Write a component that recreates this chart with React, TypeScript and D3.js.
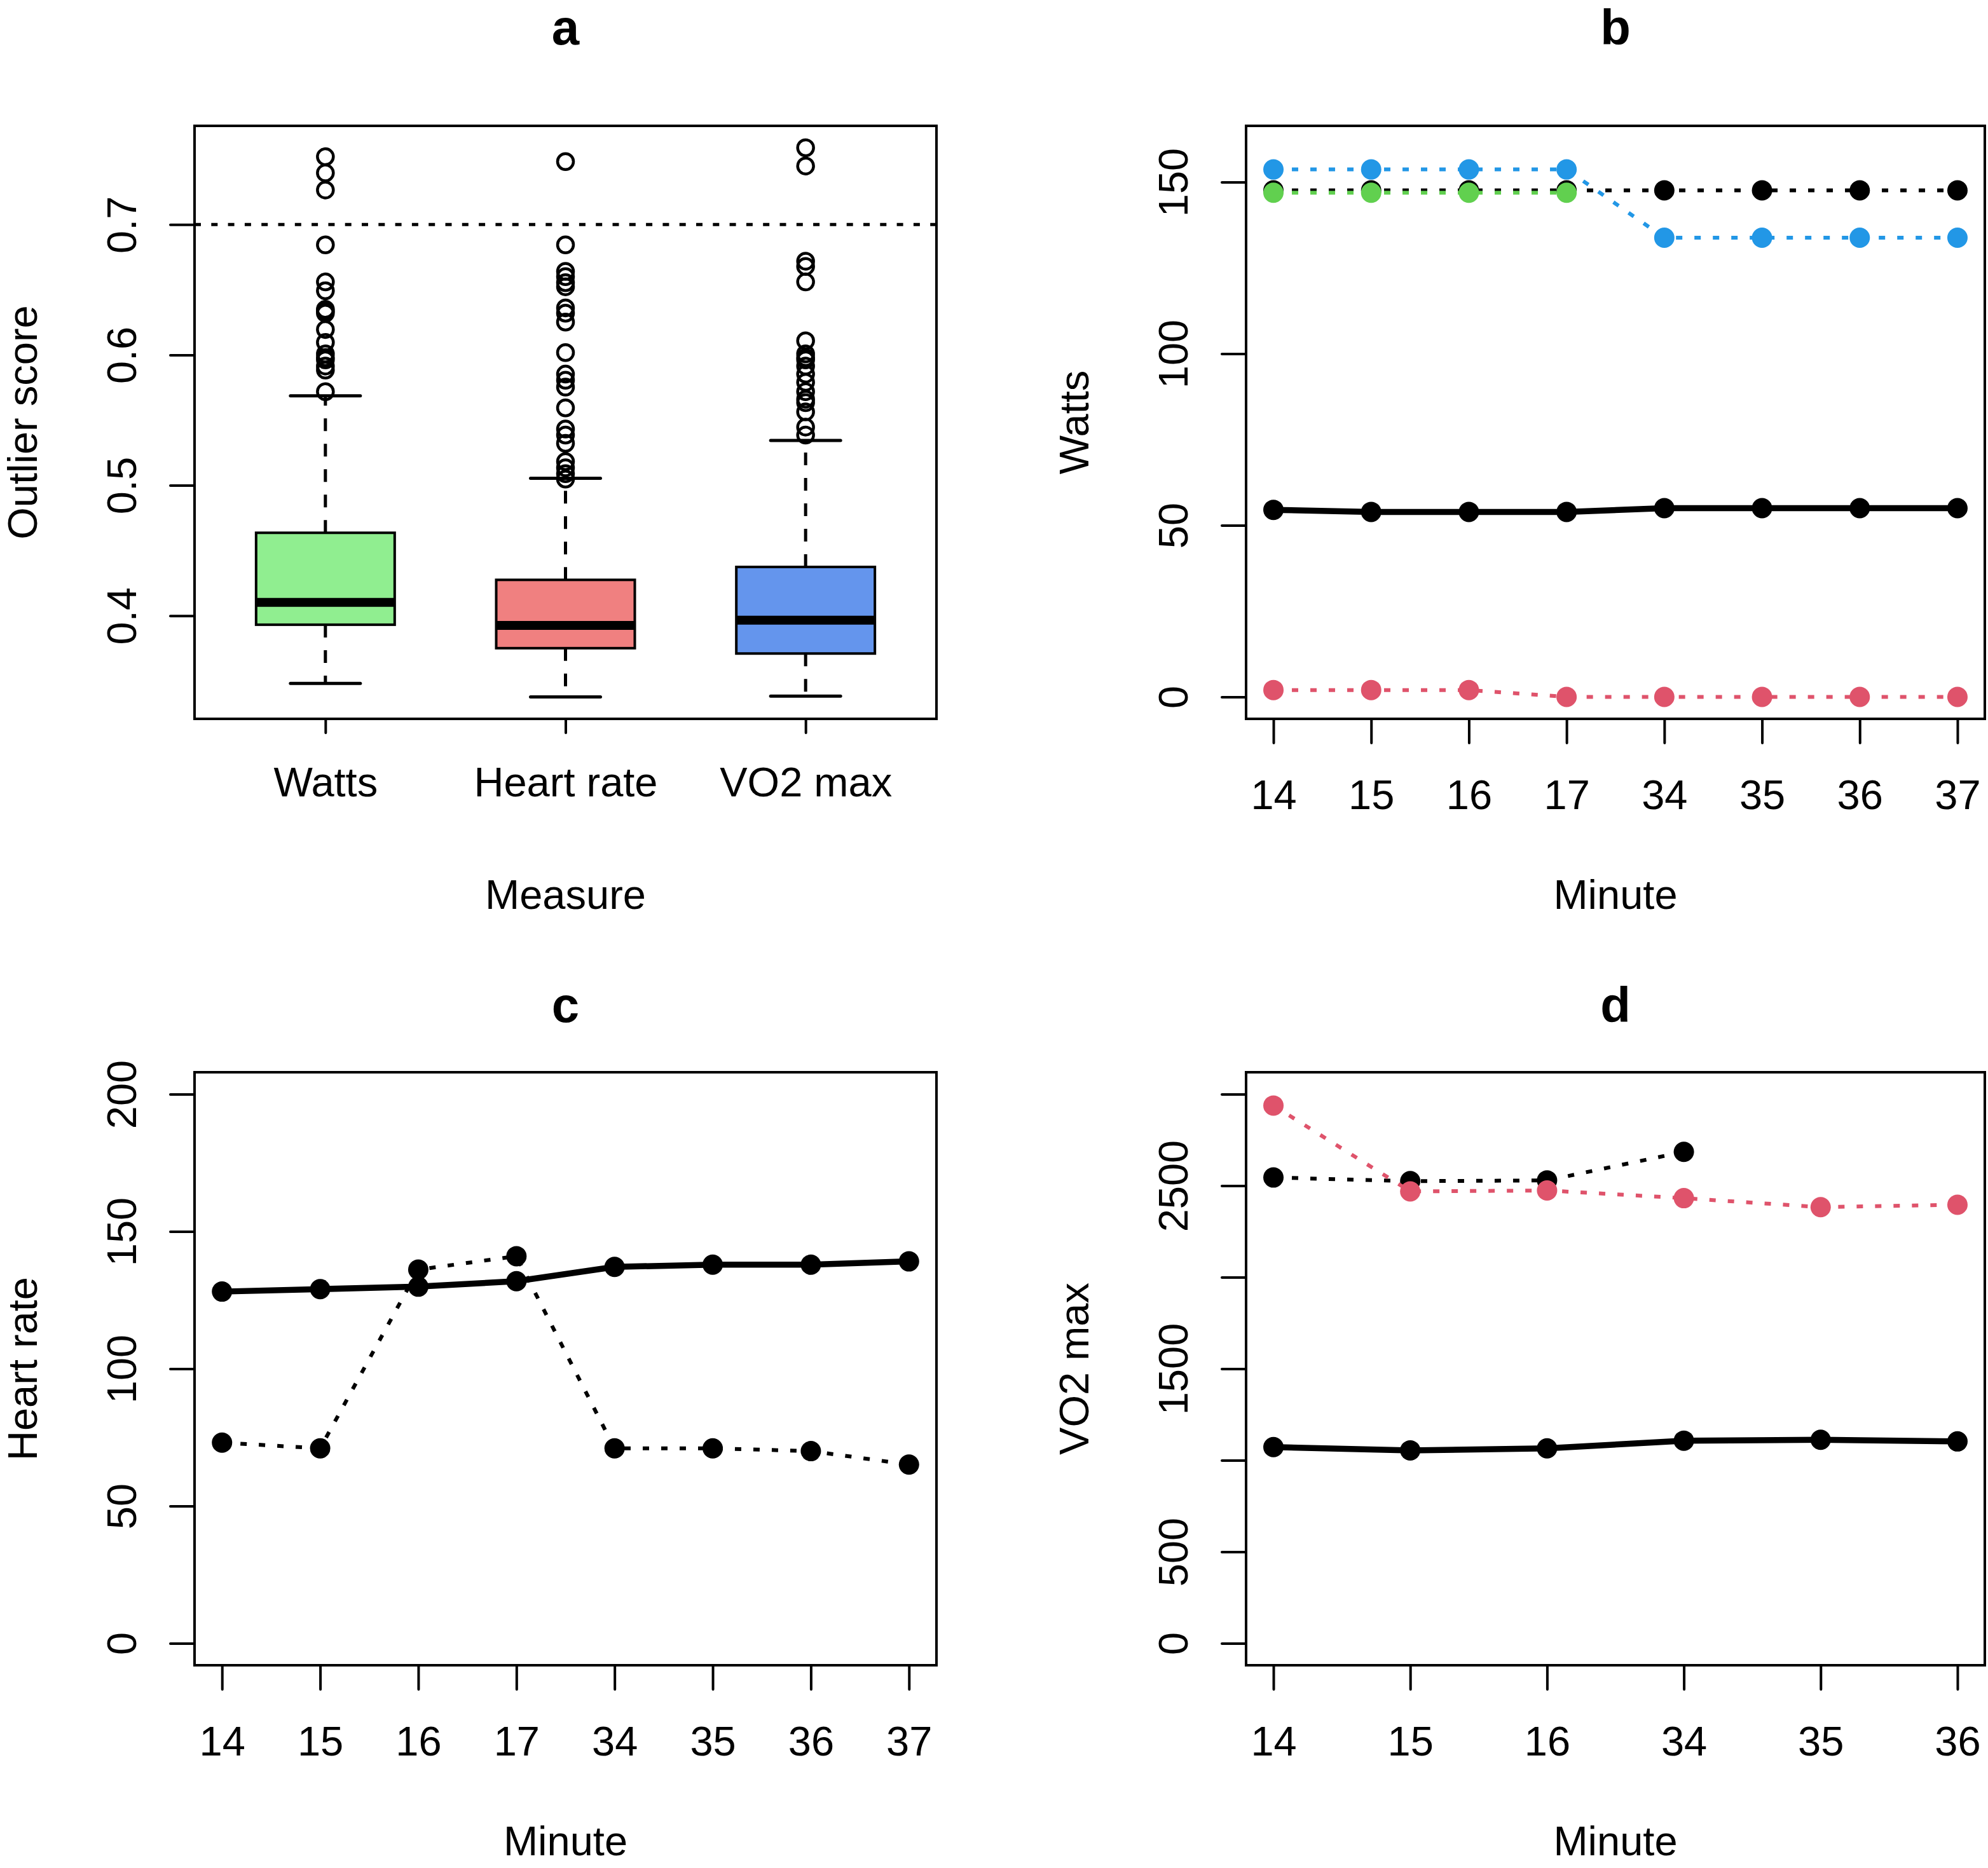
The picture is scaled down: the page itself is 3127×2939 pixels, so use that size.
import { useEffect, useRef } from 'react';
import * as d3 from 'd3';

const W = 3127;
const H = 2939;
const FONT = '"Liberation Sans", Arial, Helvetica, sans-serif';

// ── panel a: box plots of outlier scores ──
const measures = ['Watts', 'Heart rate', 'VO2 max'];
const boxFill = ['#90EE90', '#F08080', '#6495ED'];
const boxLow = [0.3481, 0.3377, 0.3383];
const boxQ1 = [0.3931, 0.3751, 0.371];
const boxMedian = [0.4102, 0.3925, 0.3966];
const boxQ3 = [0.4636, 0.4275, 0.4374];
const boxHigh = [0.5687, 0.5054, 0.5344];
const outWatts = [0.752, 0.7396, 0.7265, 0.6844, 0.656, 0.6492, 0.635, 0.6336, 0.632, 0.6195, 0.6096, 0.6008, 0.598, 0.5962, 0.5915, 0.5884, 0.5718];
const outHeart = [0.7483, 0.6844, 0.6641, 0.66, 0.6554, 0.6523, 0.6361, 0.632, 0.6252, 0.6018, 0.5853, 0.5806, 0.5753, 0.5594, 0.5432, 0.5385, 0.5322, 0.5182, 0.5135, 0.5089, 0.5048];
const outVO2 = [0.7589, 0.7449, 0.6719, 0.6679, 0.656, 0.6108, 0.6008, 0.598, 0.5962, 0.5915, 0.5853, 0.579, 0.5718, 0.566, 0.5634, 0.5563, 0.5447, 0.5385];
const scoreTicks = [0.4, 0.5, 0.6, 0.7];
const threshold = 0.7;

// ── panel b: watts ──
const minutesB = ['14', '15', '16', '17', '34', '35', '36', '37'];
const wattsSolid = [54.5, 53.9, 53.9, 53.9, 55.0, 55.0, 55.0, 55.0];
const wattsBlack = [147.6, 147.6, 147.6, 147.6, 147.6, 147.6, 147.6, 147.6];
const wattsRed = [2.0, 2.0, 2.0, 0, 0, 0, 0, 0];
const wattsGreen = [146.9, 146.9, 146.9, 146.9];
const wattsBlue = [153.7, 153.7, 153.7, 153.7, 133.8, 133.8, 133.8, 133.8];
const wattsTicks = [0, 50, 100, 150];

// ── panel c: heart rate ──
const minutesC = ['14', '15', '16', '17', '34', '35', '36', '37'];
const hrSolid = [128.1, 129.0, 129.9, 131.9, 137.1, 137.9, 137.9, 139.1];
const hrDotted = [73.1, 71.0, 136.1, 141.0, 71.0, 71.0, 70.0, 65.1];
const hrTicks = [0, 50, 100, 150, 200];

// ── panel d: VO2 max ──
const minutesD = ['14', '15', '16', '34', '35', '36'];
const vo2Solid = [1072, 1054, 1065, 1107, 1112, 1103];
const vo2Black = [2545, 2525, 2529, 2685];
const vo2Red = [2938, 2469, 2474, 2432, 2383, 2396];
const vo2Ticks = [0, 500, 1000, 1500, 2000, 2500, 3000];
const vo2Labels = ['0', '500', '', '1500', '', '2500', ''];

const RED = '#DF536B';
const GREEN = '#61D04F';
const BLUE = '#2297E6';

type Sel = d3.Selection<SVGGElement, unknown, null, undefined>;
interface Box { left: number; right: number; top: number; bottom: number }

const boxA: Box = { left: 306, right: 1473, top: 198, bottom: 1131 };
const boxB: Box = { left: 1960, right: 3122, top: 198, bottom: 1131 };
const boxC: Box = { left: 306, right: 1473, top: 1687, bottom: 2620 };
const boxD: Box = { left: 1960, right: 3122, top: 1687, bottom: 2620 };

function frame(g: Sel, b: Box) {
  g.append('rect')
    .attr('x', b.left).attr('y', b.top)
    .attr('width', b.right - b.left).attr('height', b.bottom - b.top)
    .attr('fill', 'none').attr('stroke', '#000').attr('stroke-width', 4);
}

function yAxis(g: Sel, b: Box, y: d3.ScaleLinear<number, number>, ticks: number[], labels: string[]) {
  const ax = g.append('g')
    .attr('transform', `translate(${b.left},0)`)
    .call(d3.axisLeft(y).tickValues(ticks).tickSize(38).tickFormat((_d, i) => labels[i]));
  ax.attr('font-family', FONT).attr('font-size', 65);
  ax.select('.domain').remove();
  ax.selectAll('.tick line').attr('stroke', '#000').attr('stroke-width', 4).attr('stroke-linecap', 'round');
  ax.selectAll('.tick text')
    .attr('x', 0).attr('y', -92).attr('dy', null)
    .attr('transform', 'rotate(-90)')
    .attr('text-anchor', 'middle').attr('fill', '#000');
}

function xAxis(g: Sel, b: Box, x: d3.ScaleLinear<number, number>, labels: string[], tickLen: number, labelY: number) {
  const ax = g.append('g')
    .attr('transform', `translate(0,${b.bottom})`)
    .call(d3.axisBottom(x).tickValues(labels.map((_l, i) => i + 1)).tickSize(tickLen).tickFormat((_d, i) => labels[i]));
  ax.attr('font-family', FONT).attr('font-size', 65);
  ax.select('.domain').remove();
  ax.selectAll('.tick line').attr('stroke', '#000').attr('stroke-width', 4).attr('stroke-linecap', 'round');
  ax.selectAll('.tick text').attr('y', labelY).attr('dy', null).attr('fill', '#000');
}

function titles(g: Sel, b: Box, main: string, mainY: number, xlab: string, ylab: string) {
  const cx = (b.left + b.right) / 2;
  const cy = (b.top + b.bottom) / 2;
  g.append('text').attr('x', cx).attr('y', mainY).attr('text-anchor', 'middle')
    .attr('font-family', FONT).attr('font-size', 78).attr('font-weight', 'bold').text(main);
  g.append('text').attr('x', cx).attr('y', b.bottom + 299).attr('text-anchor', 'middle')
    .attr('font-family', FONT).attr('font-size', 65).text(xlab);
  g.append('text').attr('transform', `translate(${b.left - 248},${cy}) rotate(-90)`)
    .attr('text-anchor', 'middle').attr('font-family', FONT).attr('font-size', 65).text(ylab);
}

interface Series { values: number[]; color: string; dotted: boolean }

function drawSeries(g: Sel, x: d3.ScaleLinear<number, number>, y: d3.ScaleLinear<number, number>, series: Series[]) {
  const line = d3.line<number>().x((_d, i) => x(i + 1)).y((d) => y(d));
  series.forEach((s) => {
    g.append('path')
      .attr('d', line(s.values))
      .attr('fill', 'none')
      .attr('stroke', s.color)
      .attr('stroke-width', s.dotted ? 6 : 9.5)
      .attr('stroke-linejoin', 'round')
      .attr('stroke-dasharray', s.dotted ? '10,19' : null);
    g.selectAll(null)
      .data(s.values)
      .enter()
      .append('circle')
      .attr('cx', (_d, i) => x(i + 1))
      .attr('cy', (d) => y(d))
      .attr('r', 16)
      .attr('fill', s.color);
  });
}

export default function App() {
  const svgRef = useRef<SVGSVGElement>(null);

  useEffect(() => {
    if (!svgRef.current) return;
    const svg = d3.select(svgRef.current);
    svg.selectAll('*').remove();
    const g = svg.append('g') as unknown as Sel;

    // ── a: boxplot ──
    const xa = d3.scaleLinear().domain([0.455, 3.545]).range([boxA.left, boxA.right]);
    const ya = d3.scaleLinear().domain([0.3209, 0.7757]).range([boxA.bottom, boxA.top]);
    const outliers = [outWatts, outHeart, outVO2];
    const halfW = 0.2886;
    const capW = 0.1456;
    measures.forEach((_m, i) => {
      const c = xa(i + 1);
      // whiskers
      [[boxQ3[i], boxHigh[i]], [boxQ1[i], boxLow[i]]].forEach(([a, b]) => {
        g.append('line').attr('x1', c).attr('x2', c).attr('y1', ya(a)).attr('y2', ya(b))
          .attr('stroke', '#000').attr('stroke-width', 5).attr('stroke-dasharray', '20,20');
        g.append('line').attr('x1', xa(i + 1 - capW)).attr('x2', xa(i + 1 + capW))
          .attr('y1', ya(b)).attr('y2', ya(b))
          .attr('stroke', '#000').attr('stroke-width', 5).attr('stroke-linecap', 'round');
      });
      g.append('rect')
        .attr('x', xa(i + 1 - halfW)).attr('width', xa(i + 1 + halfW) - xa(i + 1 - halfW))
        .attr('y', ya(boxQ3[i])).attr('height', ya(boxQ1[i]) - ya(boxQ3[i]))
        .attr('fill', boxFill[i]).attr('stroke', '#000').attr('stroke-width', 4);
      g.append('line').attr('x1', xa(i + 1 - halfW)).attr('x2', xa(i + 1 + halfW))
        .attr('y1', ya(boxMedian[i])).attr('y2', ya(boxMedian[i]))
        .attr('stroke', '#000').attr('stroke-width', 14);
      g.selectAll(null).data(outliers[i]).enter().append('circle')
        .attr('cx', c).attr('cy', (d) => ya(d)).attr('r', 12.5)
        .attr('fill', 'none').attr('stroke', '#000').attr('stroke-width', 4.5);
    });
    g.append('line').attr('x1', boxA.left).attr('x2', boxA.right)
      .attr('y1', ya(threshold)).attr('y2', ya(threshold))
      .attr('stroke', '#000').attr('stroke-width', 5).attr('stroke-dasharray', '10,16.3');
    frame(g, boxA);
    yAxis(g, boxA, ya, scoreTicks, scoreTicks.map((t) => t.toFixed(1)));
    xAxis(g, boxA, xa, measures, 22, 122);
    titles(g, boxA, 'a', 70, 'Measure', 'Outlier score');

    // ── b: watts ──
    const xb = d3.scaleLinear().domain([0.72, 8.28]).range([boxB.left, boxB.right]);
    const yb = d3.scaleLinear().domain([-6.4, 166.4]).range([boxB.bottom, boxB.top]);
    drawSeries(g, xb, yb, [
      { values: wattsSolid, color: '#000', dotted: false },
      { values: wattsBlack, color: '#000', dotted: true },
      { values: wattsRed, color: RED, dotted: true },
      { values: wattsGreen, color: GREEN, dotted: true },
      { values: wattsBlue, color: BLUE, dotted: true },
    ]);
    frame(g, boxB);
    yAxis(g, boxB, yb, wattsTicks, wattsTicks.map(String));
    xAxis(g, boxB, xb, minutesB, 38, 142);
    titles(g, boxB, 'b', 70, 'Minute', 'Watts');

    // ── c: heart rate ──
    const xc = d3.scaleLinear().domain([0.72, 8.28]).range([boxC.left, boxC.right]);
    const yc = d3.scaleLinear().domain([-8, 208]).range([boxC.bottom, boxC.top]);
    drawSeries(g, xc, yc, [
      { values: hrSolid, color: '#000', dotted: false },
      { values: hrDotted, color: '#000', dotted: true },
    ]);
    frame(g, boxC);
    yAxis(g, boxC, yc, hrTicks, hrTicks.map(String));
    xAxis(g, boxC, xc, minutesC, 38, 142);
    titles(g, boxC, 'c', 1608, 'Minute', 'Heart rate');

    // ── d: VO2 max ──
    const xd = d3.scaleLinear().domain([0.8, 6.2]).range([boxD.left, boxD.right]);
    const yd = d3.scaleLinear().domain([-120, 3120]).range([boxD.bottom, boxD.top]);
    drawSeries(g, xd, yd, [
      { values: vo2Solid, color: '#000', dotted: false },
      { values: vo2Black, color: '#000', dotted: true },
      { values: vo2Red, color: RED, dotted: true },
    ]);
    frame(g, boxD);
    yAxis(g, boxD, yd, vo2Ticks, vo2Labels);
    xAxis(g, boxD, xd, minutesD, 38, 142);
    titles(g, boxD, 'd', 1608, 'Minute', 'VO2 max');
  }, []);

  return (
    <svg
      ref={svgRef}
      width={W}
      height={H}
      style={{ position: 'absolute', left: 0, top: 0, background: '#fff' }}
    />
  );
}
